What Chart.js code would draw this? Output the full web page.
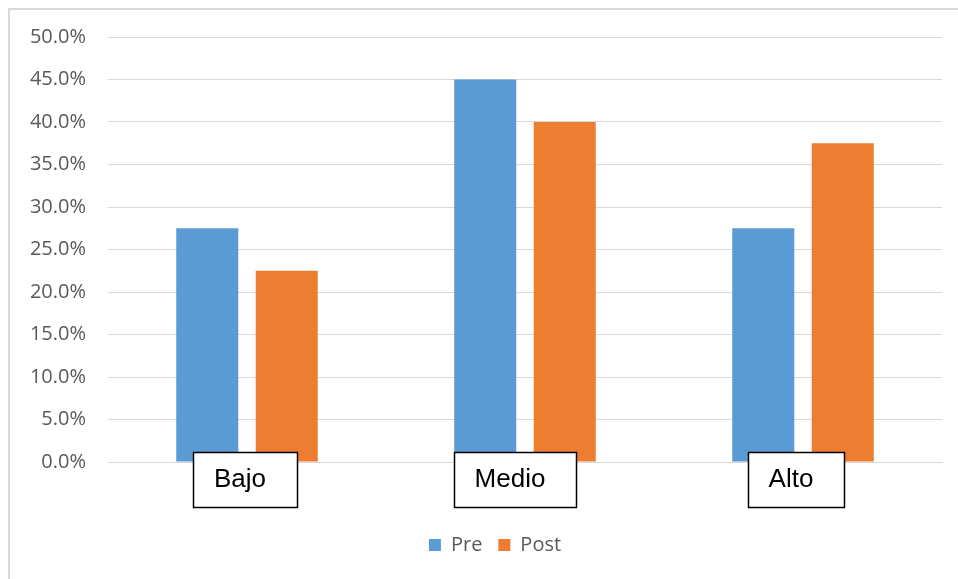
<!DOCTYPE html>
<html>
<head>
<meta charset="utf-8">
<script src="https://cdn.jsdelivr.net/npm/chart.js@4.4.1/dist/chart.umd.min.js"></script>
<style>
  html, body { margin: 0; padding: 0; background: #ffffff; }
  #wrap { position: relative; width: 958px; height: 579px; }
</style>
</head>
<body>
<div id="wrap"><canvas id="chart" width="958" height="579"></canvas></div>
<script>
// Nivel categories and percentages for each measurement
const categories = ['Bajo', 'Medio', 'Alto'];
const preValues = [27.5, 45.0, 27.5];
const postValues = [22.5, 40.0, 37.5];
const seriesNames = ['Pre', 'Post'];

// Outer frame (top and left edges) behind the chart
const framePlugin = {
  id: 'frame',
  beforeDraw(chart) {
    const ctx = chart.ctx;
    ctx.save();
    ctx.fillStyle = '#ffffff';
    ctx.fillRect(0, 0, chart.width, chart.height);
    ctx.strokeStyle = '#d9d9d9';
    ctx.lineWidth = 2;
    ctx.beginPath();
    ctx.moveTo(9, chart.height);
    ctx.lineTo(9, 9);
    ctx.lineTo(chart.width, 9);
    ctx.stroke();
    ctx.restore();
  }
};

// Centre the legend under the plot area rather than the whole canvas
const legendShift = {
  id: 'legendShift',
  afterLayout(chart, args, opts) {
    if (chart.legend) {
      chart.legend.left += opts.dx;
      chart.legend.right += opts.dx;
    }
  }
};

// Category names drawn in boxed labels sitting on the baseline
const boxedLabels = {
  id: 'boxedLabels',
  afterDatasetsDraw(chart, args, opts) {
    const ctx = chart.ctx;
    const x = chart.scales.x;
    const y = chart.scales.y;
    const base = y.getPixelForValue(0);
    ctx.save();
    ctx.font = '26px "Liberation Sans", Arial, sans-serif';
    ctx.textBaseline = 'middle';
    ctx.textAlign = 'left';
    categories.forEach((label, i) => {
      const cx = x.getPixelForValue(i) + opts.nudge[i];
      const tw = ctx.measureText(label).width;
      const left = Math.round(cx - tw / 2 - 21) + 0.5;
      const right = Math.round(cx + tw / 2 + 31) + 0.5;
      const top = Math.round(base - 10) + 0.5;
      const h = 55;
      ctx.fillStyle = '#ffffff';
      ctx.fillRect(left, top, right - left, h);
      ctx.strokeStyle = '#000000';
      ctx.lineWidth = 1.5;
      ctx.strokeRect(left, top, right - left, h);
      ctx.fillStyle = '#000000';
      ctx.fillText(label, cx - tw / 2, top + h / 2);
    });
    ctx.restore();
  }
};

new Chart(document.getElementById('chart'), {
  type: 'bar',
  data: {
    labels: categories,
    datasets: [
      { label: seriesNames[0], data: preValues, backgroundColor: '#5b9bd5', borderWidth: 0 },
      { label: seriesNames[1], data: postValues, backgroundColor: '#ed7d31', borderWidth: 0 }
    ]
  },
  options: {
    responsive: false,
    animation: false,
    devicePixelRatio: 1,
    categoryPercentage: 0.572,
    barPercentage: 0.78,
    layout: { padding: { top: 37, left: 10, right: 16, bottom: 14 } },
    plugins: {
      legend: {
        position: 'bottom',
        labels: {
          boxWidth: 12,
          boxHeight: 12,
          padding: 16,
          color: '#595959',
          font: { family: '"Open Sans", "Noto Sans", sans-serif', size: 20 }
        }
      },
      tooltip: { enabled: false },
      legendShift: { dx: 19 },
      boxedLabels: { nudge: [-7, -15, -12] }
    },
    scales: {
      x: {
        grid: { display: false, drawTicks: false },
        border: { display: true, color: '#d9d9d9', width: 1 },
        ticks: { display: false },
        afterFit(scale) { scale.height = 57; }
      },
      y: {
        min: 0,
        max: 50,
        grid: { color: '#d9d9d9', drawTicks: false },
        border: { display: false },
        ticks: {
          stepSize: 5,
          padding: 22,
          color: '#595959',
          font: { family: '"Open Sans", "Noto Sans", sans-serif', size: 20 },
          callback: v => v.toFixed(1) + '%'
        },
        afterFit(scale) { scale.width = 98; }
      }
    }
  },
  plugins: [framePlugin, legendShift, boxedLabels]
});
</script>
</body>
</html>
